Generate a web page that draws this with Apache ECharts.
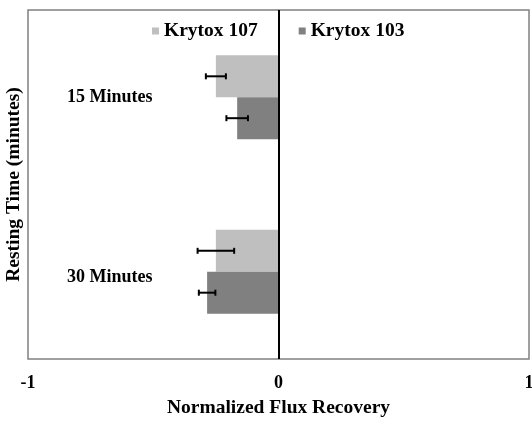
<!DOCTYPE html>
<html>
<head>
<meta charset="utf-8">
<script src="https://cdn.jsdelivr.net/npm/echarts@6/dist/echarts.min.js"></script>
<style>html,body{margin:0;padding:0;background:#fff}#c{width:532px;height:421px}</style>
</head>
<body>
<div id="c"></div>
<script>
const categories = ['15 Minutes', '30 Minutes'];
const seriesNames = ['Krytox 107', 'Krytox 103'];
const krytox107 = [-0.25, -0.25];
const krytox103 = [-0.165, -0.285];
const err107 = [0.04, 0.073];
const err103 = [0.043, 0.033];
const xTicks = [-1, 0, 1];

const FONT = "'Liberation Serif', 'Times New Roman', serif";
const BAR_FRAC = 0.24;

function errData(vals, errs) {
  return vals.map((v, i) => [i, v, errs[i]]);
}
function errSeries(name, vals, errs, side) {
  return {
    type: 'custom',
    name: name + ' err',
    z: 5,
    encode: { x: 1, y: 0 },
    data: errData(vals, errs),
    renderItem: function (params, api) {
      const ci = api.value(0), c = api.value(1), e = api.value(2);
      const band = api.size([0, 1])[1];
      const dy = side * band * BAR_FRAC / 2;
      const p1 = api.coord([c - e, ci]);
      const p2 = api.coord([c + e, ci]);
      const y = p1[1] + dy;
      const cap = 3;
      const st = { stroke: '#000', lineWidth: 2 };
      return {
        type: 'group',
        children: [
          { type: 'line', shape: { x1: p1[0], y1: y, x2: p2[0], y2: y }, style: st },
          { type: 'line', shape: { x1: p1[0], y1: y - cap, x2: p1[0], y2: y + cap }, style: st },
          { type: 'line', shape: { x1: p2[0], y1: y - cap, x2: p2[0], y2: y + cap }, style: st }
        ]
      };
    }
  };
}

const chart = echarts.init(document.getElementById('c'));
chart.setOption({
  animation: false,
  textStyle: { fontFamily: FONT },
  legend: {
    data: seriesNames,
    top: 16,
    left: 147,
    itemWidth: 7,
    itemHeight: 7,
    itemGap: 41,
    icon: 'rect',
    textStyle: { fontFamily: FONT, fontWeight: 'bold', fontSize: 19.5, color: '#000' }
  },
  grid: {
    left: 28, right: 3, top: 10, bottom: 62,
    containLabel: false,
    outerBoundsMode: 'none',
    show: true, borderColor: '#808080', borderWidth: 1.5
  },
  xAxis: {
    type: 'value',
    min: -1, max: 1, interval: 1,
    name: 'Normalized Flux Recovery',
    nameLocation: 'middle',
    nameGap: 39,
    nameTextStyle: { fontFamily: FONT, fontWeight: 'bold', fontSize: 19.5, color: '#000' },
    axisLine: { show: false },
    axisTick: { show: false },
    splitLine: { show: false },
    axisLabel: {
      margin: 15,
      fontFamily: FONT, fontWeight: 'bold', fontSize: 18, color: '#000',
      formatter: v => xTicks.includes(v) ? String(v) : ''
    }
  },
  yAxis: {
    type: 'category',
    data: categories,
    inverse: true,
    name: 'Resting Time (minutes)',
    nameLocation: 'middle',
    nameGap: 4,
    nameTextStyle: { fontFamily: FONT, fontWeight: 'bold', fontSize: 19.5, color: '#000' },
    axisLine: { show: false },
    axisTick: { show: false },
    axisLabel: {
      inside: true,
      margin: 39,
      fontFamily: FONT, fontWeight: 'bold', fontSize: 18, color: '#000',
      formatter: v => v === categories[1] ? '{b|' + v + '}' : '{a|' + v + '}',
      rich: {
        a: { fontFamily: FONT, fontWeight: 'bold', fontSize: 18, color: '#000' },
        b: { fontFamily: FONT, fontWeight: 'bold', fontSize: 18, color: '#000', padding: [12, 0, 0, 0] }
      }
    }
  },
  series: [
    {
      name: seriesNames[0], type: 'bar', data: krytox107,
      barWidth: (BAR_FRAC * 100) + '%', barGap: '0%',
      itemStyle: { color: '#bfbfbf' },
      markLine: {
        silent: true, symbol: 'none',
        label: { show: false },
        lineStyle: { color: '#000', width: 2, type: 'solid' },
        data: [{ xAxis: 0 }]
      }
    },
    {
      name: seriesNames[1], type: 'bar', data: krytox103,
      barWidth: (BAR_FRAC * 100) + '%', barGap: '0%',
      itemStyle: { color: '#808080' }
    },
    errSeries(seriesNames[0], krytox107, err107, -1),
    errSeries(seriesNames[1], krytox103, err103, 1)
  ]
});
</script>
</body>
</html>
